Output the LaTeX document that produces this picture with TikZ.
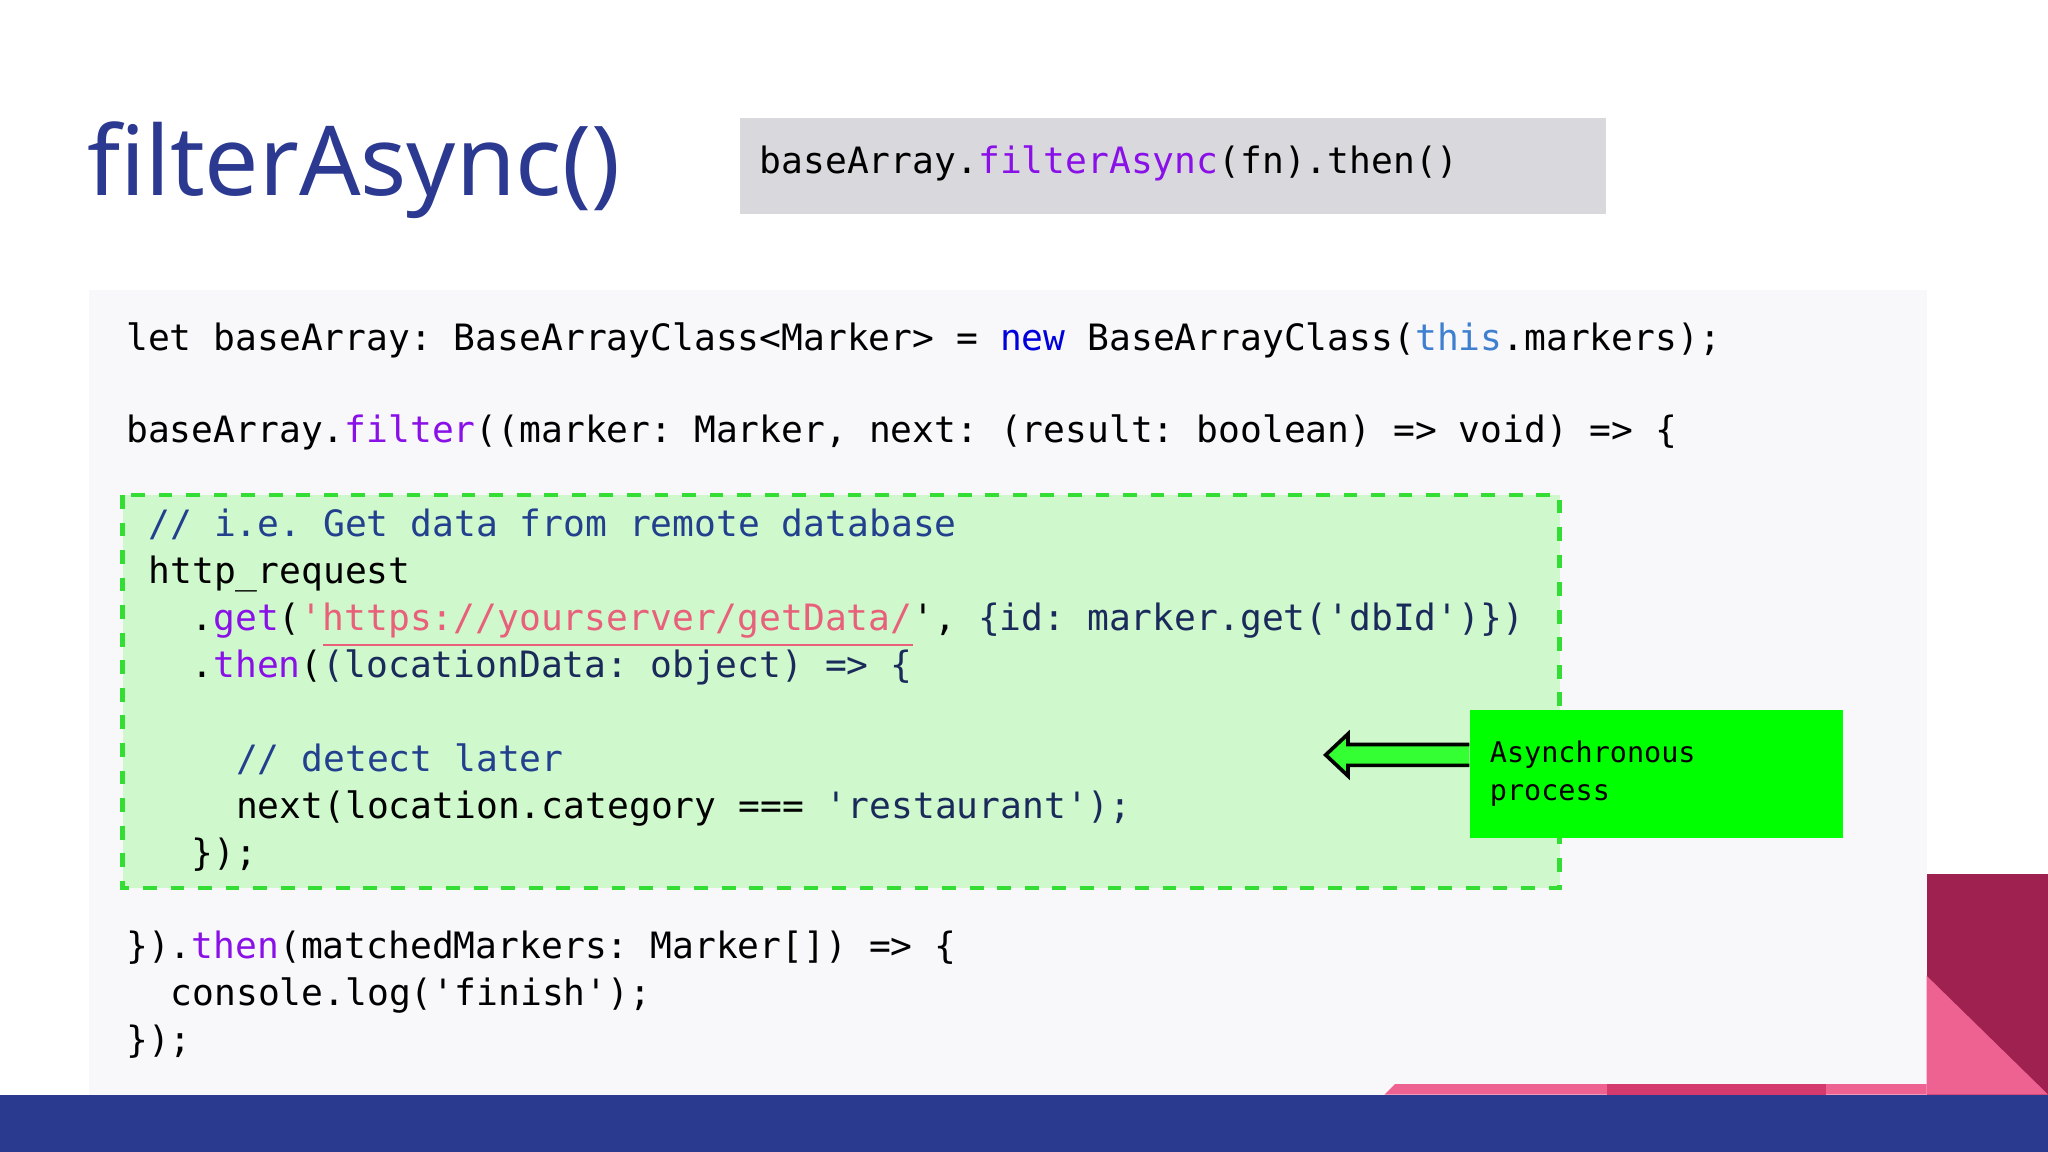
\documentclass[tikz,border=0pt]{standalone}
\usepackage{fontspec}
\setmainfont{Noto Sans}
\setmonofont{DejaVu Sans Mono}
\definecolor{titleblue}{HTML}{2B3990}
\definecolor{panel}{HTML}{F8F8FA}
\definecolor{graybox}{HTML}{D9D8DC}
\definecolor{lightgreen}{HTML}{CFF9CC}
\definecolor{dashgreen}{HTML}{33DD33}
\definecolor{brightgreen}{HTML}{00FF00}
\definecolor{kw}{HTML}{8A10E8}
\definecolor{kwnew}{HTML}{0000DD}
\definecolor{kwthis}{HTML}{3F7FD0}
\definecolor{cmt}{HTML}{23408E}
\definecolor{navytxt}{HTML}{1A2A5A}
\definecolor{urlc}{HTML}{E8607A}
\definecolor{navybar}{HTML}{2A3A8E}
\definecolor{pinkc}{HTML}{EE6292}
\definecolor{pinkd}{HTML}{D43A6E}
\definecolor{maroon}{HTML}{9E214F}
\tikzset{
 code/.style={anchor=base west,inner sep=0pt,font=\fontsize{7.9}{9}\selectfont\ttfamily},
 small/.style={anchor=base west,inner sep=0pt,font=\fontsize{6.2}{7}\selectfont\ttfamily},
}
\newcommand{\K}[1]{\textcolor{kw}{#1}}
\newcommand{\N}[1]{\textcolor{navytxt}{#1}}
\begin{document}
\begin{tikzpicture}[x=0.01cm,y=-0.01cm]
\useasboundingbox (0,0) rectangle (1568,882);
\fill[white] (0,0) rectangle (1568,882);
% panel
\fill[panel] (68,222) rectangle (1475,838);
% right decorations
\fill[maroon] (1475,669) rectangle (1568,838);
\fill[pinkc] (1475,747) -- (1568,838) -- (1475,838) -- cycle;
\fill[pinkc] (1060,838) -- (1068,830) -- (1475,830) -- (1475,838) -- cycle;
\fill[pinkd] (1230,830) rectangle (1398,838);
\fill[navybar] (0,838) rectangle (1568,882);
% title
\node[anchor=base west,inner sep=0pt,text=titleblue,font=\fontsize{21}{24}\selectfont] (title) at (66,150) {filterAsync()};
\node[fill=graybox,minimum width=663*0.01cm,minimum height=73*0.01cm,anchor=north west,inner sep=0pt] (sig) at (566,90) {};
\node[code] (sigt) at (581,133) {baseArray.\K{filterAsync}(fn).then()};
% code
\node[code] (l1) at (96,268) {let baseArray: BaseArrayClass<Marker> = \textcolor{kwnew}{new} BaseArrayClass(\textcolor{kwthis}{this}.markers);};
\node[code] (l2) at (96,339) {baseArray.\K{filter}((marker: Marker, next: (result: boolean) => void) => \{};
\draw[dashgreen,fill=lightgreen,dashed,line width=1pt] (94,379) rectangle (1194,680);
\node[code,text=cmt] (l3) at (113,411) {// i.e. Get data from remote database};
\node[code] (l4) at (113,447) {http\_request};
\node[code] (l5) at (146,483) {.\K{get}(\textcolor{urlc}{'\underline{https://yourserver/getData/}}', \N{\{id: marker.get('dbId')\})}};
\node[code] (l6) at (146,519) {.\K{then}(\N{(locationData: object) => \{}};
\node[code,text=cmt] (l7) at (180,591) {// detect later};
\node[code] (l8) at (180,627) {next(location.category === \N{'restaurant');}};
\node[code] (l9) at (146,663) {\});};
\node[code] (l10) at (96,734) {\}).\K{then}(matchedMarkers: Marker[]) => \{};
\node[code] (l11) at (130,770) {console.log('finish');};
\node[code] (l12) at (96,806) {\});};
% async box
\node[fill=brightgreen,minimum width=285*0.01cm,minimum height=98*0.01cm,anchor=north west,inner sep=0pt] (async) at (1125,543) {};
\node[small] (at1) at (1140,584) {Asynchronous};
\node[small] (at2) at (1140,613) {process};
\coordinate (tip) at (1015,578);
\draw[black,fill=brightgreen!80!white,line width=0.8pt,line join=miter]
 (async.west |- 0,570) -- (1032,570) -- (1032,562) -- (tip) -- (1032,594) -- (1032,586) -- (async.west |- 0,586);
\end{tikzpicture}
\end{document}
